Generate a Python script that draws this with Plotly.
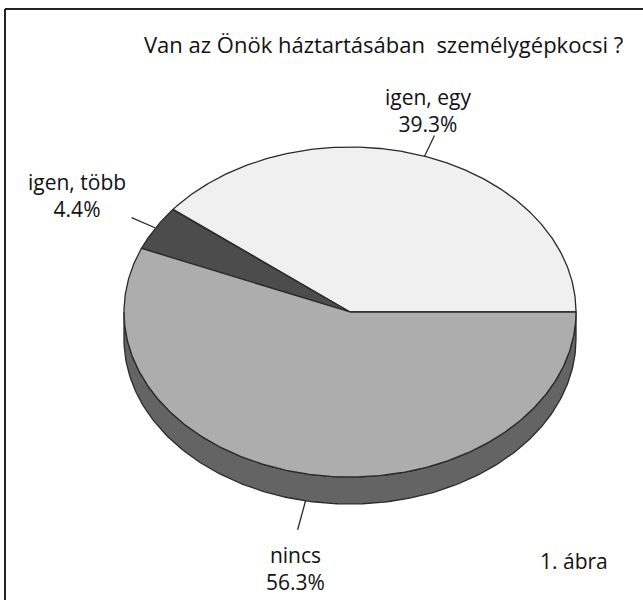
import numpy as np
import plotly.graph_objects as go

# ---- data ----
labels = ["igen, egy", "igen, több", "nincs"]
values = [39.3, 4.4, 56.3]
title_text = "Van az Önök háztartásában  személygépkocsi ?"
figure_note = "1. ábra"

# ---- styling / layout constants ----
W, H = 643, 600
CX, CY = 350, 312          # pie centre (pixels)
RX, RY = 226, 165          # ellipse radii
DEPTH = 27                 # 3D thickness
top_colors = ["#f0f0f0", "#4c4c4c", "#adadad"]
side_colors = ["#d0d0d0", "#3a3a3a", "#646464"]
edge = "#2a2a2a"
FONT = "Open Sans"
FS = 21

def pt(t, dy=0.0):
    return CX + RX * np.cos(t), CY - RY * np.sin(t) + dy

fig = go.Figure()

total = sum(values)
starts, ends = [], []
acc = 0.0
for v in values:
    starts.append(2 * np.pi * acc / total)
    acc += v
    ends.append(2 * np.pi * acc / total)

# sides (visible front half: angles pi..2pi)
for i in range(len(values)):
    a0 = max(starts[i], np.pi)
    a1 = min(ends[i], 2 * np.pi)
    if a1 <= a0:
        continue
    t = np.linspace(a0, a1, 200)
    xt, yt = pt(t)
    xb, yb = pt(t[::-1], DEPTH)
    xs = np.concatenate([xt, xb, xt[:1]])
    ys = np.concatenate([yt, yb, yt[:1]])
    fig.add_trace(go.Scatter(x=xs, y=ys, fill="toself", mode="lines",
                             fillcolor=side_colors[i],
                             line=dict(color=edge, width=1.3),
                             hoverinfo="skip", showlegend=False))

# top faces
for i in range(len(values)):
    t = np.linspace(starts[i], ends[i], 300)
    xe, ye = pt(t)
    xs = np.concatenate([[CX], xe, [CX]])
    ys = np.concatenate([[CY], ye, [CY]])
    fig.add_trace(go.Scatter(x=xs, y=ys, fill="toself", mode="lines",
                             fillcolor=top_colors[i],
                             line=dict(color=edge, width=1.3),
                             name=labels[i], hoverinfo="skip", showlegend=False))

# leader lines (from slice mid-angle on rim, outward)
leader_len = [23, 26, 30]
for i in range(len(values)):
    m = 0.5 * (starts[i] + ends[i])
    x0, y0 = pt(m)
    if np.sin(m) < 0:
        y0 += DEPTH
    dx, dy = np.cos(m) * RX, -np.sin(m) * RY
    n = np.hypot(dx, dy)
    x1, y1 = x0 + dx / n * leader_len[i], y0 + dy / n * leader_len[i]
    fig.add_trace(go.Scatter(x=[x0, x1], y=[y0, y1], mode="lines",
                             line=dict(color=edge, width=1.3),
                             hoverinfo="skip", showlegend=False))

# labels
label_pos = [(428, 110, "center"), (77, 195, "center"), (295, 568, "center")]
for i, (lx, ly, xa) in enumerate(label_pos):
    fig.add_annotation(x=lx, y=ly, xref="x", yref="y", showarrow=False,
                       text=f"{labels[i]}<br>{values[i]:.1f}%",
                       xanchor=xa, yanchor="middle", align="center",
                       font=dict(family=FONT, size=FS, color="#111"))

fig.add_annotation(x=383, y=44, xref="x", yref="y", showarrow=False,
                   text=title_text, xanchor="center", yanchor="middle",
                   font=dict(family=FONT, size=22, color="#111"))
fig.add_annotation(x=574, y=561, xref="x", yref="y", showarrow=False,
                   text=figure_note, xanchor="center", yanchor="middle",
                   font=dict(family=FONT, size=FS, color="#111"))

# frame
fig.add_shape(type="line", x0=5, y0=9, x1=W, y1=9, xref="x", yref="y",
              line=dict(color="#222", width=2))
fig.add_shape(type="line", x0=5, y0=9, x1=5, y1=H, xref="x", yref="y",
              line=dict(color="#222", width=2))

fig.update_layout(width=W, height=H, margin=dict(l=0, r=0, t=0, b=0),
                  paper_bgcolor="white", plot_bgcolor="white",
                  xaxis=dict(range=[0, W], visible=False, fixedrange=True),
                  yaxis=dict(range=[H, 0], visible=False, fixedrange=True))

fig.write_html("out.html", config={"displayModeBar": False},
               post_script="document.body.style.margin='0';document.body.style.overflow='hidden';")
